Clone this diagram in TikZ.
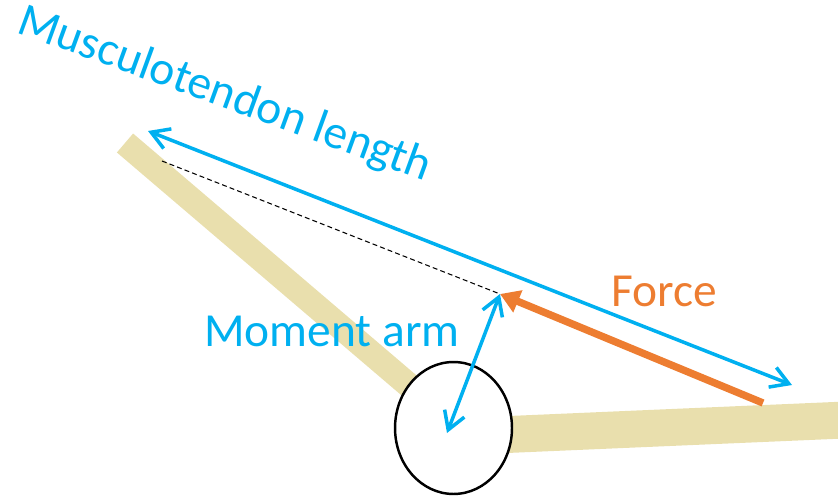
\documentclass[tikz,border=0pt]{standalone}
\usepackage{fontspec}
\setmainfont{Carlito}
\usetikzlibrary{arrows.meta,shapes.geometric}
\definecolor{tendonblue}{RGB}{0,176,240}
\definecolor{forceorange}{RGB}{237,125,49}
\definecolor{bonebeige}{RGB}{233,223,173}
\tikzset{
  bone/.style={draw=bonebeige,line cap=butt},
  span/.style={{Straight Barb[length=10pt,width=12pt]}-{Straight Barb[length=10pt,width=12pt]},draw=tendonblue,line width=2pt},
  pull/.style={-{Triangle[length=11pt,width=13pt]},draw=forceorange,line width=4.2pt},
  guide/.style={draw=black,dash pattern=on 2.8pt off 1.8pt,line width=0.6pt},
  joint/.style={ellipse,draw=black,line width=1.4pt,fill=white,minimum width=2.34cm,minimum height=2.64cm,inner sep=0pt},
  tag/.style={font=\fontsize{27}{32}\selectfont,inner sep=0pt}
}

\begin{document}
\begin{tikzpicture}[x=0.02cm,y=-0.02cm]
  \useasboundingbox (0,0) rectangle (838,496);
  \clip (0,0) rectangle (838,496);

  % bones
  \coordinate (upperend) at (125,143);
  \coordinate (upperroot) at (432,405);
  \coordinate (lowerroot) at (450,437);
  \coordinate (lowerend) at (845,420);
  \draw[bone,line width=14.2pt] (upperend) -- (upperroot);
  \draw[bone,line width=21pt] (lowerroot) -- (lowerend);

  % joint
  \node[joint] (joint) at (453.5,428) {};

  % muscle line of action
  \coordinate (origin) at (162,161);
  \coordinate (insertion) at (500,294);
  \coordinate (centre) at (447,433);
  \coordinate (tendontop) at (148,131);
  \coordinate (tendonend) at (792,385);
  \coordinate (forcetail) at (763,403);
  \draw[guide] (origin) -- (insertion);
  \draw[span] (tendontop) -- (tendonend);
  \draw[pull] (forcetail) -- (insertion);
  \draw[span] (centre) -- (insertion);

  % labels
  \node[tag,text=tendonblue,rotate=-20,anchor=base west] (lengthlabel) at (15,32) {Musculotendon length};
  \node[tag,text=tendonblue,anchor=base west] (armlabel) at (204,347) {Moment arm};
  \node[tag,text=forceorange,anchor=base west] (forcelabel) at (611,307) {Force};
\end{tikzpicture}
\end{document}
